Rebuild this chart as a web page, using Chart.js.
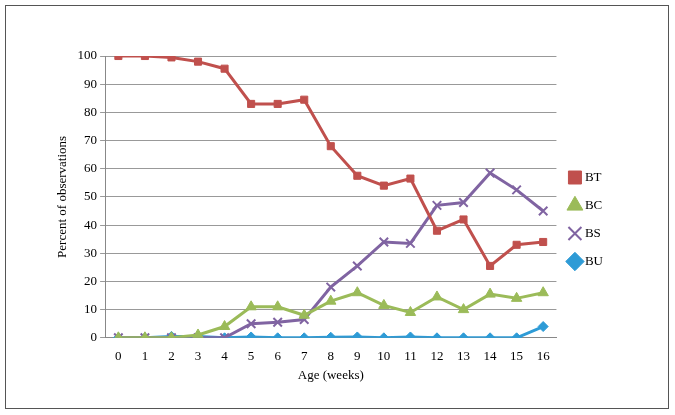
<!DOCTYPE html>
<html>
<head>
<meta charset="utf-8">
<script src="https://cdn.jsdelivr.net/npm/chart.js@4"></script>
<style>
  body { margin: 0; background: #fff; }
  #wrap { position: absolute; left: 5px; top: 5px; width: 664px; height: 404px; border: 1px solid #555; box-sizing: border-box; }
</style>
</head>
<body>
<div id="wrap"><canvas id="c"></canvas></div>
<script>
const weeks = ["0","1","2","3","4","5","6","7","8","9","10","11","12","13","14","15","16"];
const bt = [100, 100, 99.5, 98, 95.5, 83, 83, 84.5, 68, 57.5, 54, 56.5, 38, 42, 25.5, 33, 34];
const bc = [0, 0, 0, 1, 4, 11, 11, 8, 13, 16, 11.5, 9, 14.5, 10, 15.5, 14, 16];
const bs = [0, 0, 0, 0, 0, 5, 5.5, 6.5, 18, 25.5, 34, 33.5, 47, 48, 58.5, 52.5, 45];
const bu = [0, 0, 0.5, 0.5, 0, 0.3, 0, 0, 0.2, 0.3, 0, 0.3, 0, 0, 0, 0, 4];

const font = { family: "Liberation Serif", size: 13 };

const series = (label, data, color, style, r) => ({
  label, data,
  borderColor: color,
  backgroundColor: color,
  pointStyle: style,
  pointRadius: r,
  pointBorderWidth: style === "crossRot" ? 2 : 1,
  borderWidth: 3,
  tension: 0,
});

new Chart(document.getElementById("c"), {
  type: "line",
  data: {
    labels: weeks,
    datasets: [
      series("BT", bt, "#C0504D", "rect", 5),
      series("BC", bc, "#9BBB59", "triangle", 6),
      series("BS", bs, "#8064A2", "crossRot", 6),
      series("BU", bu, "#2E9BD6", "rectRot", 5),
    ],
  },
  options: {
    responsive: true,
    maintainAspectRatio: false,
    animation: false,
    layout: { padding: { left: 45, right: 30, top: 50, bottom: 25 } },
    plugins: {
      legend: {
        position: "right",
        labels: { usePointStyle: true, boxWidth: 7, padding: 15, color: "#000", font },
      },
      tooltip: { enabled: false },
    },
    scales: {
      x: {
        offset: true,
        grid: { display: false },
        border: { color: "#888" },
        ticks: { color: "#000", font },
        title: { display: true, text: "Age (weeks)", color: "#000", font, padding: 0 },
      },
      y: {
        min: 0, max: 100,
        afterFit: (s) => {},
        grid: { color: "#999", tickLength: 5 },
        border: { color: "#888" },
        ticks: { stepSize: 10, color: "#000", font },
        title: { display: true, text: "Percent of observations", color: "#000", font },
      },
    },
  },
  plugins: [{
    id: "legendGap",
    beforeInit(chart) {
      const fit = chart.legend.fit;
      chart.legend.fit = function () {
        fit.bind(chart.legend)();
        this.width += 25;
      };
    },
  }],
});
</script>
</body>
</html>
